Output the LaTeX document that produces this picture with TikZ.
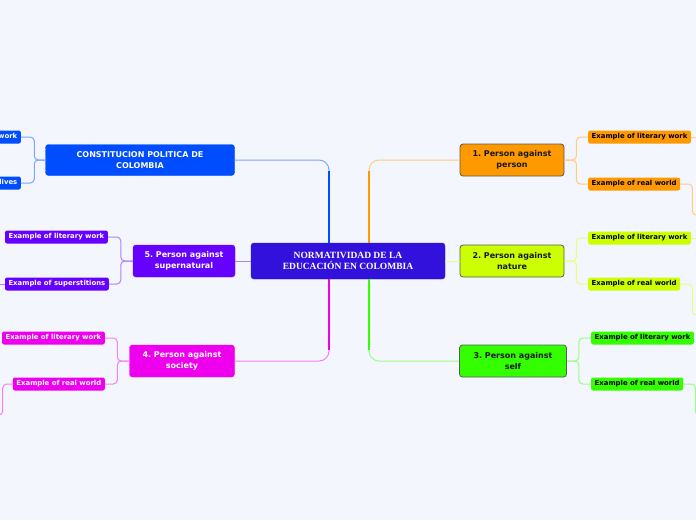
\documentclass[tikz,border=0pt]{standalone}
\usepackage{fontspec}
\newfontfamily\ramafont{DejaVu Sans}
\newfontfamily\centrofont{Liberation Serif}
\usetikzlibrary{positioning,calc}
\frenchspacing

\definecolor{fondo}{RGB}{243,246,253}
\definecolor{centro}{RGB}{51,17,221}
\definecolor{azul}{RGB}{0,76,255}
\definecolor{violeta}{RGB}{102,0,255}
\definecolor{fucsia}{RGB}{238,0,238}
\definecolor{naranja}{RGB}{255,153,0}
\definecolor{lima}{RGB}{204,255,0}
\definecolor{verde}{RGB}{51,255,0}

\tikzset{
  tema/.style={rectangle, rounded corners=3pt, minimum width=104pt, minimum height=32pt,
    align=center, inner xsep=4pt, font=\ramafont\bfseries\fontsize{8}{11}\selectfont\frenchspacing},
  claro/.style={fill=#1, draw=black!65, line width=0.8pt, text=black!90},
  oscuro/.style={fill=#1, draw=#1, text=white},
  hoja/.style={rectangle, rounded corners=2pt, fill=#1, minimum height=13pt,
    inner xsep=3.5pt, inner ysep=0pt, font=\ramafont\bfseries\fontsize{6.9}{8}\selectfont},
  rama/.style={draw=#1!50, line width=1pt, rounded corners=4pt},
  tronco/.style={draw=#1, line width=2.2pt}
}

\begin{document}
\begin{tikzpicture}[x=1pt,y=-1pt]

	% Fondo de toda la hoja
	\fill[fondo] (0,0) rectangle (696,520);
	\useasboundingbox (0,0) rectangle (696,520);
	\clip (0,0) rectangle (696,520);

	% Idea central
	\node[rectangle, rounded corners=3pt, fill=centro, draw=centro!80!black, text=white,
	  minimum width=194pt, minimum height=36pt, align=center,
	  font=\centrofont\bfseries\fontsize{9.5}{11}\selectfont]
	  (centro) at (348,261) {NORMATIVIDAD DE LA\\EDUCACIÓN EN COLOMBIA};

	% Temas principales
	\node[tema, oscuro=azul, minimum width=189pt, minimum height=31pt] (cons) at (140,160) {CONSTITUCION POLITICA DE\\COLOMBIA};
	\node[tema, claro=naranja] (p1) at (512,160) {1. Person against\\person};
	\node[tema, claro=lima] (p2) at (512,261) {2. Person against\\nature};
	\node[tema, claro=verde, minimum width=107pt] (p3) at (513,361) {3. Person against\\self};
	\node[tema, oscuro=fucsia, minimum width=105pt] (p4) at (182,361) {4. Person against\\society};
	\node[tema, oscuro=violeta, minimum width=102pt] (p5) at (184,261) {5. Person against\\supernatural};

	% Ramas de la idea central a cada tema
	\draw[rama=azul, rounded corners=10pt] (cons.east) -| ([xshift=-19pt]centro.north);
	\draw[tronco=azul] ([xshift=-19pt]centro.north) -- ++(0,-72);
	\draw[rama=naranja, rounded corners=10pt] (p1.west) -| ([xshift=21pt]centro.north);
	\draw[tronco=naranja] ([xshift=21pt]centro.north) -- ++(0,-72);
	\draw[rama=fucsia, rounded corners=10pt] (p4.east) -| ([xshift=-19pt]centro.south);
	\draw[tronco=fucsia] ([xshift=-19pt]centro.south) -- ++(0,71);
	\draw[rama=verde, rounded corners=10pt] (p3.west) -| ([xshift=21pt]centro.south);
	\draw[tronco=verde] ([xshift=21pt]centro.south) -- ++(0,71);
	\draw[rama=violeta] (p5.east) -- (centro.west);
	\draw[rama=lima] (centro.east) -- (p2.west);

	% Hojas de la derecha
	\node[hoja=naranja, anchor=west] (p1a) at (588,137) {Example of literary work};
	\node[hoja=naranja, anchor=west] (p1b) at (588,184) {Example of real world};
	\node[hoja=lima, anchor=west] (p2a) at (588,238) {Example of literary work};
	\node[hoja=lima, anchor=west] (p2b) at (588,284) {Example of real world};
	\node[hoja=verde, anchor=west] (p3a) at (591,338) {Example of literary work};
	\node[hoja=verde, anchor=west] (p3b) at (591,384) {Example of real world};

	% Hojas de la izquierda
	\node[hoja=azul, text=white, anchor=east] (ca) at (21,137) {Example of literary work};
	\node[hoja=azul, text=white, anchor=east] (cb) at (21,183) {Example of real lives};
	\node[hoja=violeta, text=white, anchor=east] (p5a) at (108,237) {Example of literary work};
	\node[hoja=violeta, text=white, anchor=east] (p5b) at (109,284) {Example of superstitions};
	\node[hoja=fucsia, text=white, anchor=east] (p4a) at (105,338) {Example of literary work};
	\node[hoja=fucsia, text=white, anchor=east] (p4b) at (105,384) {Example of real world};

	% Corchetes de tema a hojas
	\draw[rama=naranja] (p1.east) -- ++(12,0) |- (p1a.west);
	\draw[rama=naranja] (p1.east) -- ++(12,0) |- (p1b.west);
	\draw[rama=lima] (p2.east) -- ++(12,0) |- (p2a.west);
	\draw[rama=lima] (p2.east) -- ++(12,0) |- (p2b.west);
	\draw[rama=verde] (p3.east) -- ++(12,0) |- (p3a.west);
	\draw[rama=verde] (p3.east) -- ++(12,0) |- (p3b.west);
	\draw[rama=azul] (cons.west) -- ++(-11,0) |- (ca.east);
	\draw[rama=azul] (cons.west) -- ++(-11,0) |- (cb.east);
	\draw[rama=violeta] (p5.west) -- ++(-12,0) |- (p5a.east);
	\draw[rama=violeta] (p5.west) -- ++(-12,0) |- (p5b.east);
	\draw[rama=fucsia] (p4.west) -- ++(-12,0) |- (p4a.east);
	\draw[rama=fucsia] (p4.west) -- ++(-12,0) |- (p4b.east);

	% Ramas que siguen fuera del marco
	\coordinate (s1a) at (720,137);
	\coordinate (s1b) at (720,215);
	\coordinate (s2a) at (720,238);
	\coordinate (s2b) at (720,315);
	\coordinate (s3b) at (720,415);
	\coordinate (s5b) at (-20,284);
	\coordinate (s4b) at (-20,415);
	\draw[rama=naranja] (p1a.east) -- (s1a);
	\draw[rama=naranja] (p1b.east) -- ++(12,0) |- (s1b);
	\draw[rama=lima] (p2a.east) -- (s2a);
	\draw[rama=lima] (p2b.east) -- ++(12,0) |- (s2b);
	\draw[rama=verde] (p3b.east) -- ++(12,0) |- (s3b);
	\draw[rama=violeta] (p5b.west) -- (s5b);
	\draw[rama=fucsia] (p4b.west) -- ++(-10,0) |- (s4b);

\end{tikzpicture}
\end{document}
